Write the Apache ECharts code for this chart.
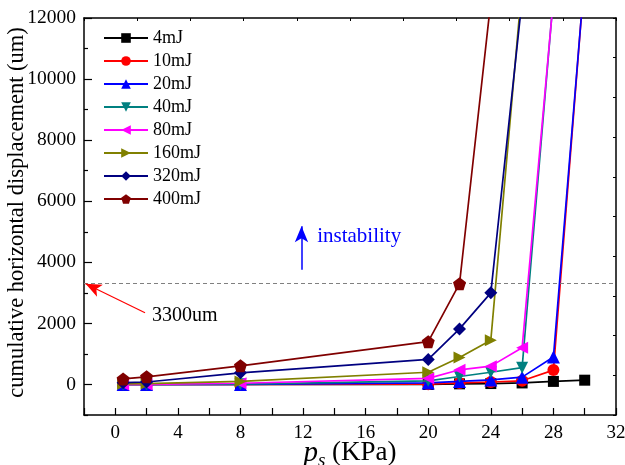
<!DOCTYPE html>
<html><head><meta charset="utf-8">
<script src="https://cdn.jsdelivr.net/npm/echarts@6/dist/echarts.min.js"></script>
<style>html,body{margin:0;padding:0;background:#fff}#c{width:625px;height:465px}</style>
</head><body><div id="c"></div>
<script>
// ---- data ----
const xValues = [0.5, 2, 8, 20, 22, 24, 26, 28, 30];
const seriesNames = ['4mJ', '10mJ', '20mJ', '40mJ', '80mJ', '160mJ', '320mJ', '400mJ'];
const d4mJ   = [0, 0, 0, 0, 20, 30, 50, 100, 140];
const d10mJ  = [0, 0, 0, 10, 50, 80, 120, 470, 13450];
const d20mJ  = [0, 0, 0, 50, 100, 150, 240, 900, 13400];
const d40mJ  = [0, 0, 10, 120, 260, 400, 550, 12700];
const d80mJ  = [0, 0, 40, 200, 480, 600, 1200, 12650];
const d160mJ = [20, 30, 100, 400, 880, 1450, 13100];
const d320mJ = [60, 80, 380, 820, 1820, 3000, 12620];
const d400mJ = [180, 250, 610, 1400, 3300, 12555];
const xTickLabels = [0, 4, 8, 12, 16, 20, 24, 28, 32];
const yTickLabels = [0, 2000, 4000, 6000, 8000, 10000, 12000];
const yMinorTicks = [-1000, 1000, 3000, 5000, 7000, 9000, 11000];
const thresholdValue = 3300;

const seriesData = [d4mJ, d10mJ, d20mJ, d40mJ, d80mJ, d160mJ, d320mJ, d400mJ];
const colors = ['#000000', '#FF0000', '#0000FF', '#008080', '#FF00FF', '#808000', '#000080', '#800000'];
const symbols = [
  'rect', 'circle', 'triangle',
  'path://M0,0 L2,0 L1,1.8 Z',
  'path://M0,1 L1.8,0 L1.8,2 Z',
  'path://M0,0 L1.8,1 L0,2 Z',
  'diamond',
  'path://M0,-1 L0.951,-0.309 L0.588,0.809 L-0.588,0.809 L-0.951,-0.309 Z'
];
const symbolSizes = [11, 12, 13, 12, 12, 12, 13, 13];

const FONT = '"Liberation Serif", "DejaVu Serif", serif';
const chart = echarts.init(document.getElementById('c'), null, {renderer: 'canvas'});

const series = seriesNames.map((name, i) => ({
  name: name,
  type: 'line',
  data: seriesData[i].map((v, j) => [xValues[j], v]),
  xAxisIndex: 0, yAxisIndex: 0,
  symbol: symbols[i],
  symbolSize: symbolSizes[i],
  showAllSymbol: true,
  clip: true,
  lineStyle: {color: colors[i], width: 1.7},
  itemStyle: {color: colors[i]},
  emphasis: {disabled: true},
  z: 2 + i
}));

// annotations
series[7].markLine = {
  silent: true,
  animation: false,
  label: {show: false},
  symbol: ['none', 'none'],
  data: [
    [{coord: [-2, thresholdValue], lineStyle: {color: '#808080', type: [4, 3], width: 1}},
     {coord: [32, thresholdValue]}],
    [{coord: [1.9, 2350], lineStyle: {color: '#FF0000', type: 'solid', width: 1.2}},
     {coord: [-1.9, thresholdValue], symbol: 'arrow', symbolSize: [10, 16]}],
    [{coord: [11.9, 3760], lineStyle: {color: '#0000FF', type: 'solid', width: 1.5}},
     {coord: [11.9, 5180], symbol: 'arrow', symbolSize: [10, 16]}]
  ]
};
series[7].markPoint = {
  silent: true,
  animation: false,
  symbol: 'circle',
  symbolSize: 0,
  data: [
    {coord: [2.35, 2250], label: {show: true, position: 'right', distance: 0, formatter: '3300um', color: '#000', fontSize: 20, fontFamily: FONT}},
    {coord: [12.9, 4850], label: {show: true, position: 'right', distance: 0, formatter: 'instability', color: '#0000FF', fontSize: 21, fontFamily: FONT}}
  ]
};

const axisLineStyle = {color: '#000', width: 1.5};

chart.setOption({
  animation: false,
  backgroundColor: '#fff',
  grid: {left: 84, right: 9, top: 18, bottom: 50, containLabel: false, outerBoundsMode: 'none'},
  legend: {
    orient: 'vertical',
    left: 98, top: 24,
    itemWidth: 44, itemHeight: 12,
    itemGap: 5,
    data: seriesNames,
    textStyle: {fontFamily: FONT, fontSize: 18, color: '#000', lineHeight: 18},
    selectedMode: false
  },
  xAxis: [
    {
      type: 'value', position: 'bottom', min: -2, max: 32, interval: 2,
      axisLine: {show: true, onZero: false, lineStyle: axisLineStyle},
      axisTick: {show: true, inside: true, length: 7, lineStyle: {color: '#000', width: 1.2}},
      axisLabel: {
        color: '#000', fontFamily: FONT, fontSize: 19, margin: 9,
        formatter: v => (xTickLabels.indexOf(v) >= 0 ? String(v) : '')
      },
      splitLine: {show: false},
      name: '{p|p}{s|s}{n| (KPa)}',
      nameLocation: 'middle', nameGap: 21, nameMoveOverlap: false,
      nameTextStyle: {
        fontFamily: FONT, color: '#000', fontSize: 29,
        rich: {
          p: {fontFamily: FONT, fontStyle: 'italic', fontSize: 29, color: '#000'},
          s: {fontFamily: FONT, fontStyle: 'italic', fontSize: 19, color: '#000', padding: [15, 0, 0, 0]},
          n: {fontFamily: FONT, fontSize: 27, color: '#000'}
        }
      }
    },
    {
      type: 'value', position: 'top', min: 0, max: 10, interval: 1,
      axisLine: {show: true, onZero: false, lineStyle: axisLineStyle},
      axisTick: {show: true, inside: true, length: 3, lineStyle: {color: '#000', width: 1}},
      axisLabel: {show: false}, splitLine: {show: false}
    }
  ],
  yAxis: [
    {
      type: 'value', position: 'left', min: -1000, max: 12000, interval: 1000,
      axisLine: {show: true, onZero: false, lineStyle: axisLineStyle},
      axisTick: {show: true, inside: true, length: 8, customValues: yTickLabels, lineStyle: {color: '#000', width: 1.2}},
      axisLabel: {
        color: '#000', fontFamily: FONT, fontSize: 19.5, margin: 8,
        formatter: v => (yTickLabels.indexOf(v) >= 0 ? String(v) : '')
      },
      splitLine: {show: false},
      name: 'cumulative horizontal displacement (um)',
      nameLocation: 'middle', nameGap: 55, nameMoveOverlap: false,
      nameTextStyle: {fontFamily: FONT, fontSize: 22.5, color: '#000', padding: [0, 0, 0, 8]}
    },
    {
      type: 'value', position: 'right', min: 0, max: 10, interval: 1,
      axisLine: {show: true, onZero: false, lineStyle: axisLineStyle},
      axisTick: {show: true, inside: true, length: 3, lineStyle: {color: '#000', width: 1}},
      axisLabel: {show: false}, splitLine: {show: false}
    },
    {
      type: 'value', position: 'left', min: -1000, max: 12000, interval: 1000,
      axisLine: {show: false, onZero: false},
      axisTick: {show: true, inside: true, length: 4, customValues: yMinorTicks, lineStyle: {color: '#000', width: 1.2}},
      axisLabel: {show: false}, splitLine: {show: false}
    }
  ],
  series: series
});
</script>
</body></html>
